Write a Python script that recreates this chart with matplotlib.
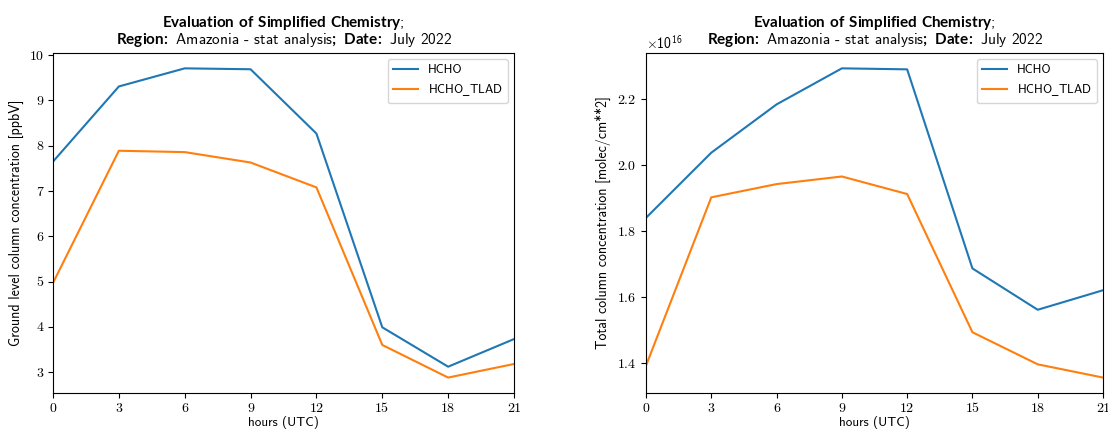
import matplotlib
matplotlib.use('Agg')
import matplotlib.pyplot as plt
from matplotlib.ticker import ScalarFormatter

plt.rcParams['font.family'] = ['cmss10', 'DejaVu Sans']
plt.rcParams['mathtext.fontset'] = 'custom'
plt.rcParams['mathtext.rm'] = 'cmr10'
plt.rcParams['mathtext.bf'] = 'Lato:bold'
plt.rcParams['mathtext.tt'] = 'DejaVu Sans'
plt.rcParams['axes.unicode_minus'] = False

hours = [0, 3, 6, 9, 12, 15, 18, 21]

# ground level [ppbV]
ground_hcho = [7.65, 9.31, 9.71, 9.69, 8.27, 3.99, 3.12, 3.73]
ground_tlad = [4.97, 7.89, 7.86, 7.63, 7.08, 3.60, 2.88, 3.18]

# total column [molec/cm**2]
total_hcho = [1.840e16, 2.037e16, 2.183e16, 2.292e16, 2.289e16, 1.687e16, 1.562e16, 1.621e16]
total_tlad = [1.393e16, 1.902e16, 1.942e16, 1.965e16, 1.912e16, 1.494e16, 1.397e16, 1.357e16]

linha1 = r'$\mathbf{Evaluation\ of\ Simplified\ Chemistry}$;'
linha2 = r'$\mathbf{Region\!:}$ Amazonia - stat analysis$\mathbf{;\ Date\!:}$ July 2022'

fig = plt.figure(figsize=(11.08, 4.30), dpi=100)
ax1 = fig.add_axes([53/1108, 0.086, 461/1108, 0.791])
ax2 = fig.add_axes([646/1108, 0.086, 457/1108, 0.791])

paineis = [
    (ax1, ground_hcho, ground_tlad, 'Ground level column concentration [ppbV]'),
    (ax2, total_hcho, total_tlad, 'Total column concentration [molec/cm**2]'),
]

for ax, hcho, tlad, ylab in paineis:
    ax.plot(hours, hcho, label='HCHO')
    ax.plot(hours, tlad, label=r'HCHO$\mathtt{\_}$TLAD')
    ax.set_xlim(0, 21)
    ax.set_xticks(hours)
    ax.set_xlabel('hours (UTC)', fontsize=9.5, labelpad=1)
    ax.set_ylabel(ylab, fontsize=10)
    # titulo em duas linhas (mathtext deixa o espacamento grande demais)
    ax.text(0.5, 1.0 + 26/340, linha1, transform=ax.transAxes, ha='center', va='baseline', fontsize=11)
    ax.text(0.5, 1.0 + 9/340, linha2, transform=ax.transAxes, ha='center', va='baseline', fontsize=11)
    ax.legend(loc='upper right', fontsize=9)
    for lbl in ax.get_xticklabels() + ax.get_yticklabels():
        lbl.set_fontfamily('cmr10')
        lbl.set_fontsize(10)

fmt = ScalarFormatter(useMathText=True)
ax2.yaxis.set_major_formatter(fmt)
ax2.set_yticks([1.4e16, 1.6e16, 1.8e16, 2.0e16, 2.2e16])
for lbl in ax2.get_yticklabels():
    lbl.set_fontfamily('cmr10')

plt.savefig('out.png', dpi=100)
